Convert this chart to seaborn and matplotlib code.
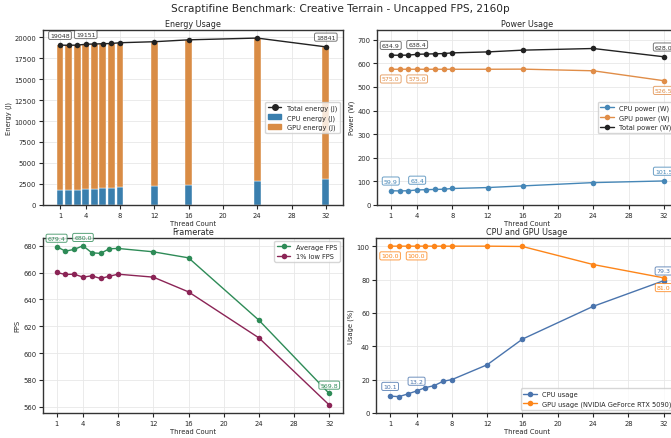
import matplotlib
matplotlib.use("Agg")
import matplotlib.pyplot as plt
import matplotlib.patches as mpatches
import matplotlib.lines as mlines
import seaborn as sns

# --- Data ---
threads = [1, 2, 3, 4, 5, 6, 7, 8, 12, 16, 24, 32]
xticks = [1, 4, 8, 12, 16, 20, 24, 28, 32]

total_energy = [19048, 19030, 19050, 19151, 19185, 19215, 19245, 19335, 19455, 19680, 19890, 18841]
cpu_energy = [1797, 1779, 1800, 1902, 1935, 1965, 1995, 2085, 2205, 2415, 2835, 3045]
gpu_energy = [17251, 17251, 17250, 17249, 17250, 17250, 17250, 17250, 17250, 17265, 17055, 15796]

cpu_power = [59.9, 59.3, 60.0, 63.4, 64.5, 65.5, 66.5, 69.5, 73.5, 80.5, 94.5, 101.5]
gpu_power = [575.0, 575.0, 575.0, 575.0, 575.0, 575.0, 575.0, 575.0, 575.0, 575.5, 568.5, 526.5]
total_power = [634.9, 634.3, 635.0, 638.4, 639.5, 640.5, 641.5, 644.5, 648.5, 656.0, 663.0, 628.0]

avg_fps = [679.4, 676.0, 677.3, 680.0, 674.8, 674.3, 677.8, 678.0, 675.5, 671.0, 624.5, 569.8]
low_fps = [660.1, 658.6, 658.8, 656.6, 657.6, 655.6, 657.3, 658.8, 656.6, 645.6, 611.3, 561.2]

cpu_usage = [10.1, 9.8, 11.4, 13.2, 15.2, 16.4, 19.0, 20.0, 28.9, 44.3, 63.9, 79.3]
gpu_usage = [100.0, 100.0, 100.0, 100.0, 100.0, 100.0, 100.0, 100.0, 100.0, 99.8, 89.0, 81.0]

LABEL_IDX = [0, 3, 11]

# --- Style ---
sns.set_theme(style="ticks", rc={
    "axes.edgecolor": "#333333",
    "axes.linewidth": 1.0,
    "xtick.major.size": 2.8,
    "ytick.major.size": 2.8,
    "xtick.major.width": 0.8,
    "ytick.major.width": 0.8,
    "xtick.labelsize": 4.9,
    "ytick.labelsize": 4.9,
    "axes.labelsize": 4.9,
    "axes.titlesize": 5.8,
    "legend.fontsize": 4.8,
    "axes.titlepad": 3,
    "axes.labelpad": 2,
    "xtick.major.pad": 2,
    "ytick.major.pad": 2,
})
plt.rcParams["font.family"] = ["DejaVu Sans"]

LW = 1.0
MS = 4.0

C_BAR_CPU = "#3a7fae"
C_BAR_GPU = "#d98c45"
C_PWR_CPU = "#4687b7"
C_PWR_GPU = "#e08d48"
C_TOTAL = "#222222"
C_AVG = "#2e8b57"
C_LOW = "#8b2456"
C_USE_CPU = "#4a74ad"
C_USE_GPU = "#fd8519"


def label_points(ax, ys, fmt, color, offset, text_color=None):
    for i in LABEL_IDX:
        ax.annotate(fmt.format(ys[i]), (threads[i], ys[i]), xytext=(0, offset),
                    textcoords="offset points", ha="center", va="center",
                    fontsize=4.5, color=text_color or color,
                    bbox=dict(boxstyle="round,pad=0.25", fc="white", ec=color,
                              alpha=0.8, lw=0.7))


def line(ax, ys, color, label):
    sns.lineplot(x=threads, y=ys, ax=ax, color=color, label=label, marker="o",
                 lw=LW, markersize=MS, markeredgewidth=0)


def finish(ax, title, ylabel):
    ax.set_title(title)
    ax.set_xlabel("Thread Count")
    ax.set_ylabel(ylabel)
    ax.set_xticks(xticks)
    ax.grid(True, color="#e8e8e8", lw=0.6)
    ax.set_axisbelow(True)


fig = plt.figure(figsize=(6.71, 4.39), dpi=100)
ax_e = fig.add_axes([0.064, 0.531, 0.447, 0.399])
ax_p = fig.add_axes([0.562, 0.531, 0.4475, 0.399])
ax_f = fig.add_axes([0.064, 0.057, 0.447, 0.399])
ax_u = fig.add_axes([0.561, 0.057, 0.4485, 0.399])

# 1. Energy usage (stacked bars + total line)
ax_e.bar(threads, cpu_energy, width=0.8, color=C_BAR_CPU, edgecolor="white", lw=0.3)
ax_e.bar(threads, gpu_energy, width=0.8, bottom=cpu_energy, color=C_BAR_GPU,
         edgecolor="white", lw=0.3)
sns.lineplot(x=threads, y=total_energy, ax=ax_e, color=C_TOTAL, marker="o",
             lw=LW, markersize=MS, markeredgewidth=0, legend=False)
label_points(ax_e, total_energy, "{:.0f}", "#555555", 7, text_color="#333333")
finish(ax_e, "Energy Usage", "Energy (J)")
ax_e.legend(handles=[
    mlines.Line2D([], [], color=C_TOTAL, marker="o", lw=LW, markersize=MS, label="Total energy (J)"),
    mpatches.Patch(color=C_BAR_CPU, label="CPU energy (J)"),
    mpatches.Patch(color=C_BAR_GPU, label="GPU energy (J)"),
], loc="center right")

# 2. Power usage
line(ax_p, cpu_power, C_PWR_CPU, "CPU power (W)")
line(ax_p, gpu_power, C_PWR_GPU, "GPU power (W)")
line(ax_p, total_power, C_TOTAL, "Total power (W)")
label_points(ax_p, cpu_power, "{:.1f}", C_PWR_CPU, 7)
label_points(ax_p, gpu_power, "{:.1f}", C_PWR_GPU, -7)
label_points(ax_p, total_power, "{:.1f}", "#555555", 7, text_color="#333333")
ax_p.set_ylim(0, max(total_power) * 1.12)
finish(ax_p, "Power Usage", "Power (W)")
ax_p.legend(loc="center right")

# 3. Framerate
line(ax_f, avg_fps, C_AVG, "Average FPS")
line(ax_f, low_fps, C_LOW, "1% low FPS")
label_points(ax_f, avg_fps, "{:.1f}", C_AVG, 6)
finish(ax_f, "Framerate", "FPS")
ax_f.legend(loc="upper right")

# 4. CPU / GPU usage
line(ax_u, cpu_usage, C_USE_CPU, "CPU usage")
line(ax_u, gpu_usage, C_USE_GPU, "GPU usage (NVIDIA GeForce RTX 5090)")
label_points(ax_u, cpu_usage, "{:.1f}", C_USE_CPU, 7)
label_points(ax_u, gpu_usage, "{:.1f}", C_USE_GPU, -7)
ax_u.set_ylim(0, 105)
finish(ax_u, "CPU and GPU Usage", "Usage (%)")
ax_u.legend(loc="lower right")

fig.suptitle("Scraptifine Benchmark: Creative Terrain - Uncapped FPS, 2160p",
             x=0.508, y=0.99, fontsize=7.6)

fig.savefig("out.png", dpi=100)
